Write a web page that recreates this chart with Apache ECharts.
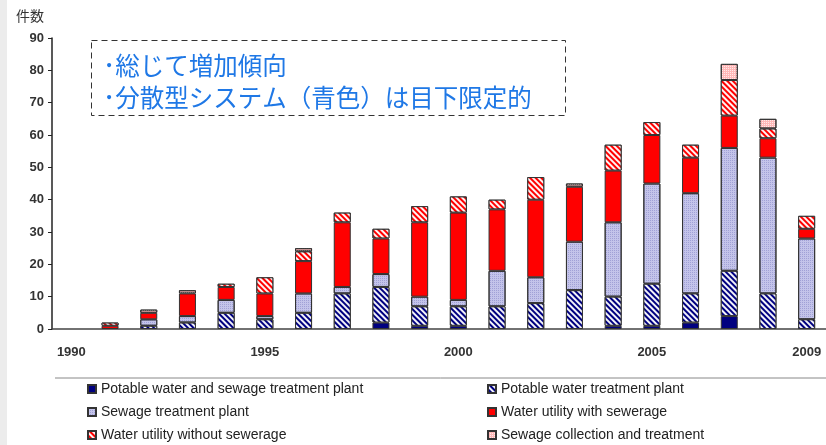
<!DOCTYPE html>
<html><head><meta charset="utf-8">
<script src="https://cdn.jsdelivr.net/npm/echarts@6/dist/echarts.min.js"></script>
<style>html,body{margin:0;padding:0;background:#fff}#c{width:826px;height:445px}</style>
</head><body><div id="c"></div>
<script>
const years = ['1990','1991','1992','1993','1994','1995','1996','1997','1998','1999','2000','2001','2002','2003','2004','2005','2006','2007','2008','2009'];
const seriesNames = ['Potable water and sewage treatment plant','Potable water treatment plant','Sewage treatment plant','Water utility with sewerage','Water utility without sewerage','Sewage collection and treatment'];
const potableSewage   = [0,0,0,0,0,0,0,0,2,1,1,0,0,0,1,1,2,4,0,0];
const potableOnly     = [0,0,1,2,5,3,5,11,11,6,6,7,8,12,9,13,9,14,11,3];
const sewagePlant     = [0,0,2,2,4,1,6,2,4,3,2,11,8,15,23,31,31,38,42,25];
const withSewerage    = [0,1,2,7,4,7,10,20,11,23,27,19,24,17,16,15,11,10,6,3];
const withoutSewerage = [0,1,0,0,1,5,3,3,3,5,5,3,7,0,8,4,4,11,3,4];
const collection      = [0,0,1,1,0,0,1,0,0,0,0,0,0,1,0,0,0,5,3,0];
const yTicks = [0,10,20,30,40,50,60,70,80,90];
const shownYears = ['1990','1995','2000','2005','2009'];
const noteLines = ['総じて増加傾向','分散型システム（青色）は目下限定的'];
const axisName = '件数';

const values = [potableSewage, potableOnly, sewagePlant, withSewerage, withoutSewerage, collection];
const stripes = c => ({symbol:'rect', symbolSize:1, dashArrayX:[1,0], dashArrayY:[2,2], rotation:Math.PI/4, color:c});
const styles = [
  {color:'#000080'},
  {color:'#000080', decal: stripes('rgba(255,255,255,0.95)')},
  {color:'#c4c4ea', decal:{symbol:'rect', symbolSize:1, dashArrayX:[1,1], dashArrayY:[1,1], rotation:0, color:'rgba(120,120,190,0.45)'}},
  {color:'#ff0000'},
  {color:'#ff0000', decal: stripes('rgba(255,255,255,0.95)')},
  {color:'#ffb8b8', decal:{symbol:'rect', symbolSize:1, dashArrayX:[1,1], dashArrayY:[1,1], rotation:0, color:'rgba(255,255,255,0.7)'}}
];

const series = seriesNames.map((n,i)=>({
  name:n, type:'bar', stack:'total', barWidth:17,
  data: values[i].map(v => v === 0 ? '-' : v),
  itemStyle: Object.assign({borderColor:'#333', borderWidth:1}, styles[i])
}));

const legendPos = [[87,381],[487,381],[87,404],[487,404],[87,427],[487,427]];
const legendText = {fontFamily:'"Liberation Sans", Arial', fontSize:14, color:'#222', lineHeight:16};
const legends = seriesNames.map((n,i)=>({
  left:legendPos[i][0], top:legendPos[i][1], itemWidth:8, itemHeight:8, icon:'rect',
  textStyle:legendText, data:[n], selectedMode:false, padding:0
}));

const chart = echarts.init(document.getElementById('c'), null, {renderer:'canvas'});
chart.setOption({
  animation:false,
  grid:{left:52, right:0, top:38, bottom:116},
  xAxis:{type:'category', data:years,
    axisLine:{lineStyle:{color:'#444', width:1.5}},
    axisTick:{show:false},
    axisLabel:{interval:0, formatter: v => shownYears.includes(v) ? v : '', fontWeight:'bold', fontSize:13, color:'#333', fontFamily:'"Liberation Sans", Arial', margin:17}
  },
  yAxis:{type:'value', min:yTicks[0], max:yTicks[yTicks.length-1], interval:10,
    axisLine:{show:true, lineStyle:{color:'#222', width:1.5}},
    axisTick:{show:true, length:4, lineStyle:{color:'#222'}},
    splitLine:{show:false},
    axisLabel:{fontWeight:'bold', fontSize:13, color:'#333', fontFamily:'"Liberation Sans", Arial', margin:8}
  },
  legend: legends,
  graphic:[
    {type:'rect', left:0, top:0, shape:{width:7, height:445}, style:{fill:'#ececec'}, silent:true},
    {type:'line', shape:{x1:55, y1:378, x2:826, y2:378}, style:{stroke:'#888', lineWidth:1}},
    {type:'text', left:16, top:9, style:{text:axisName, fontSize:14, fontFamily:'"Noto Sans CJK JP"', fill:'#333'}},
    {type:'rect', shape:{x:91.5, y:40.5, width:474, height:75}, style:{fill:'#fff', stroke:'#333', lineWidth:1, lineDash:[6,4]}},
    {type:'text', left:103, top:53, style:{text:'･'+noteLines[0], fontSize:24.5, fontFamily:'"Noto Sans CJK JP"', fill:'#1f78e6'}},
    {type:'text', left:103, top:85, style:{text:'･'+noteLines[1], fontSize:24.5, fontFamily:'"Noto Sans CJK JP"', fill:'#1f78e6'}}
  ],
  series: series
});
</script></body></html>
